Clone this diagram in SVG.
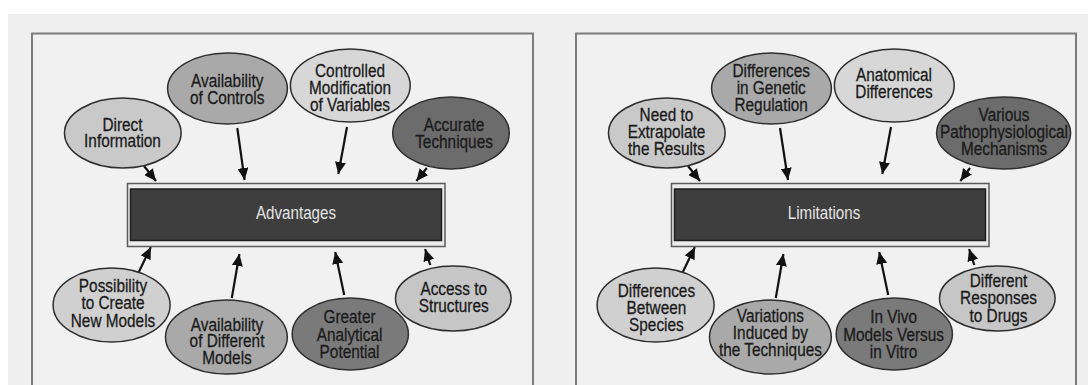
<svg xmlns="http://www.w3.org/2000/svg" width="1088" height="385" viewBox="0 0 1088 385">
<style>
.bg{fill:#efefef}
.panel{fill:#f1f1f1;stroke:#7c7c7c;stroke-width:2}
.outer{fill:#ececec;stroke:#5a5a5a;stroke-width:1.5}
.inner{fill:#3e3e3e;stroke:#1e1e1e;stroke-width:1.5}
.el{stroke:#2e2e2e;stroke-width:1.5}
.t{font-family:"Liberation Sans",Arial,sans-serif;font-size:18.5px;fill:#1a1a1a;stroke:#1a1a1a;stroke-width:0.3;text-anchor:middle}
.title{font-family:"Liberation Sans",Arial,sans-serif;font-size:18.5px;fill:#e4e4e4;text-anchor:middle}
.arr{stroke:#111;stroke-width:2.2;fill:none;marker-end:url(#ah)}
.c1{fill:#c9c9c9}.c2{fill:#a9a9a9}.c3{fill:#d7d7d7}.c4{fill:#6c6c6c}.c5{fill:#d0d0d0}.c6{fill:#7a7a7a}.c7{fill:#c6c6c6}
</style>
<defs>
<marker id="ah" markerUnits="userSpaceOnUse" markerWidth="13" markerHeight="11" refX="12" refY="5.5" orient="auto">
<path d="M0,0 L12,5.5 L0,11 z" fill="#111"/>
</marker>
</defs>
<rect x="0" y="0" width="1088" height="385" fill="#ffffff"/>
<rect class="bg" x="8" y="14" width="1080" height="371"/>
<g id="panel-left">
<rect class="panel" x="32" y="33.5" width="501" height="370"/>
</g>
<g id="panel-right">
<rect class="panel" x="576" y="33.5" width="500" height="370"/>
</g>
<g id="connectors">
<line class="arr" x1="144" y1="166" x2="156" y2="181"/>
<line class="arr" x1="237.3" y1="128" x2="244.6" y2="180"/>
<line class="arr" x1="347" y1="127" x2="338.3" y2="174"/>
<line class="arr" x1="426.8" y1="168" x2="416.4" y2="181"/>
<line class="arr" x1="138.8" y1="272" x2="150.9" y2="247"/>
<line class="arr" x1="231.8" y1="298" x2="239.4" y2="254"/>
<line class="arr" x1="344.2" y1="295" x2="335.2" y2="252"/>
<line class="arr" x1="430.3" y1="265" x2="425.1" y2="249"/>
<line class="arr" x1="688" y1="166" x2="700" y2="181"/>
<line class="arr" x1="780" y1="128" x2="788" y2="180"/>
<line class="arr" x1="891" y1="127" x2="882.3" y2="174"/>
<line class="arr" x1="970" y1="168" x2="960.4" y2="181"/>
<line class="arr" x1="682.8" y1="272" x2="694.9" y2="247"/>
<line class="arr" x1="775.8" y1="298" x2="783.4" y2="254"/>
<line class="arr" x1="888.2" y1="295" x2="879.2" y2="252"/>
<line class="arr" x1="974.3" y1="265" x2="969.1" y2="249"/>
</g>
<g id="advantages">
<rect class="outer" x="127.5" y="183.5" width="317.5" height="63"/>
<rect class="inner" x="130.5" y="189" width="311" height="51.5"/>
<text class="title" transform="translate(296,219) scale(0.82,1)">Advantages</text>
</g>
<g id="limitations">
<rect class="outer" x="671.5" y="183.5" width="317.5" height="63"/>
<rect class="inner" x="674.5" y="189" width="311" height="51.5"/>
<text class="title" transform="translate(824,219) scale(0.82,1)">Limitations</text>
</g>
<g id="direct-information">
<ellipse class="el c1" cx="122.8" cy="133" rx="58.3" ry="35"/>
<text class="t" transform="translate(122.5,130.7) scale(0.83,1)">Direct</text>
<text class="t" transform="translate(122.5,147) scale(0.83,1)">Information</text>
</g>
<g id="availability-controls">
<ellipse class="el c2" cx="227.5" cy="88.5" rx="59.9" ry="35.5"/>
<text class="t" transform="translate(227.2,87) scale(0.83,1)">Availability</text>
<text class="t" transform="translate(227.2,104) scale(0.83,1)">of Controls</text>
</g>
<g id="controlled-modification">
<ellipse class="el c3" cx="350.3" cy="85.5" rx="59.9" ry="36.5"/>
<text class="t" transform="translate(350,77) scale(0.83,1)">Controlled</text>
<text class="t" transform="translate(350,94) scale(0.83,1)">Modification</text>
<text class="t" transform="translate(350,111) scale(0.83,1)">of Variables</text>
</g>
<g id="accurate-techniques">
<ellipse class="el c4" cx="451" cy="133" rx="58.3" ry="36"/>
<text class="t" transform="translate(454,131) scale(0.83,1)">Accurate</text>
<text class="t" transform="translate(454,148) scale(0.83,1)">Techniques</text>
</g>
<g id="possibility-new-models">
<ellipse class="el c5" cx="111.6" cy="305" rx="58.5" ry="37"/>
<text class="t" transform="translate(113,292) scale(0.83,1)">Possibility</text>
<text class="t" transform="translate(113,309) scale(0.83,1)">to Create</text>
<text class="t" transform="translate(113,327) scale(0.83,1)">New Models</text>
</g>
<g id="availability-different-models">
<ellipse class="el c2" cx="226.4" cy="337" rx="60.9" ry="37"/>
<text class="t" transform="translate(227,331) scale(0.83,1)">Availability</text>
<text class="t" transform="translate(227,347) scale(0.83,1)">of Different</text>
<text class="t" transform="translate(227,364) scale(0.83,1)">Models</text>
</g>
<g id="greater-analytical-potential">
<ellipse class="el c6" cx="350.3" cy="334" rx="58.1" ry="36"/>
<text class="t" transform="translate(349.5,323) scale(0.83,1)">Greater</text>
<text class="t" transform="translate(349.5,341) scale(0.83,1)">Analytical</text>
<text class="t" transform="translate(349.5,358) scale(0.83,1)">Potential</text>
</g>
<g id="access-structures">
<ellipse class="el c7" cx="453.3" cy="298.5" rx="57.8" ry="32.5"/>
<text class="t" transform="translate(453.7,295) scale(0.83,1)">Access to</text>
<text class="t" transform="translate(453.7,312) scale(0.83,1)">Structures</text>
</g>
<g id="need-extrapolate">
<ellipse class="el c1" cx="666.8" cy="133" rx="58.3" ry="35"/>
<text class="t" transform="translate(666.5,121) scale(0.83,1)">Need to</text>
<text class="t" transform="translate(666.5,138) scale(0.83,1)">Extrapolate</text>
<text class="t" transform="translate(666.5,155) scale(0.83,1)">the Results</text>
</g>
<g id="genetic-regulation">
<ellipse class="el c2" cx="771.5" cy="88.5" rx="59.9" ry="35.5"/>
<text class="t" transform="translate(771.2,77) scale(0.83,1)">Differences</text>
<text class="t" transform="translate(771.2,94) scale(0.83,1)">in Genetic</text>
<text class="t" transform="translate(771.2,111) scale(0.83,1)">Regulation</text>
</g>
<g id="anatomical-differences">
<ellipse class="el c3" cx="894.3" cy="85.5" rx="59.9" ry="36.5"/>
<text class="t" transform="translate(894,81) scale(0.83,1)">Anatomical</text>
<text class="t" transform="translate(894,98) scale(0.83,1)">Differences</text>
</g>
<g id="pathophysiological-mechanisms">
<ellipse class="el c4" cx="1003.6" cy="133" rx="67" ry="36"/>
<text class="t" transform="translate(1004,121) scale(0.83,1)">Various</text>
<text class="t" transform="translate(1004,138) scale(0.83,1)">Pathophysiological</text>
<text class="t" transform="translate(1004,155) scale(0.83,1)">Mechanisms</text>
</g>
<g id="differences-species">
<ellipse class="el c5" cx="655.6" cy="305" rx="58.5" ry="37"/>
<text class="t" transform="translate(656.4,297) scale(0.83,1)">Differences</text>
<text class="t" transform="translate(656.4,314) scale(0.83,1)">Between</text>
<text class="t" transform="translate(656.4,331) scale(0.83,1)">Species</text>
</g>
<g id="variations-techniques">
<ellipse class="el c2" cx="770.4" cy="337" rx="60.9" ry="37"/>
<text class="t" transform="translate(770.4,322) scale(0.83,1)">Variations</text>
<text class="t" transform="translate(770.4,339) scale(0.83,1)">Induced by</text>
<text class="t" transform="translate(770.4,356) scale(0.83,1)">the Techniques</text>
</g>
<g id="in-vivo-in-vitro">
<ellipse class="el c6" cx="894.3" cy="334" rx="58.1" ry="36"/>
<text class="t" transform="translate(893.6,323) scale(0.83,1)">In Vivo</text>
<text class="t" transform="translate(893.6,341) scale(0.83,1)">Models Versus</text>
<text class="t" transform="translate(893.6,358) scale(0.83,1)">in Vitro</text>
</g>
<g id="responses-drugs">
<ellipse class="el c7" cx="997.3" cy="298.5" rx="57.8" ry="32.5"/>
<text class="t" transform="translate(998.5,287) scale(0.83,1)">Different</text>
<text class="t" transform="translate(998.5,304) scale(0.83,1)">Responses</text>
<text class="t" transform="translate(998.5,322) scale(0.83,1)">to Drugs</text>
</g>
</svg>
